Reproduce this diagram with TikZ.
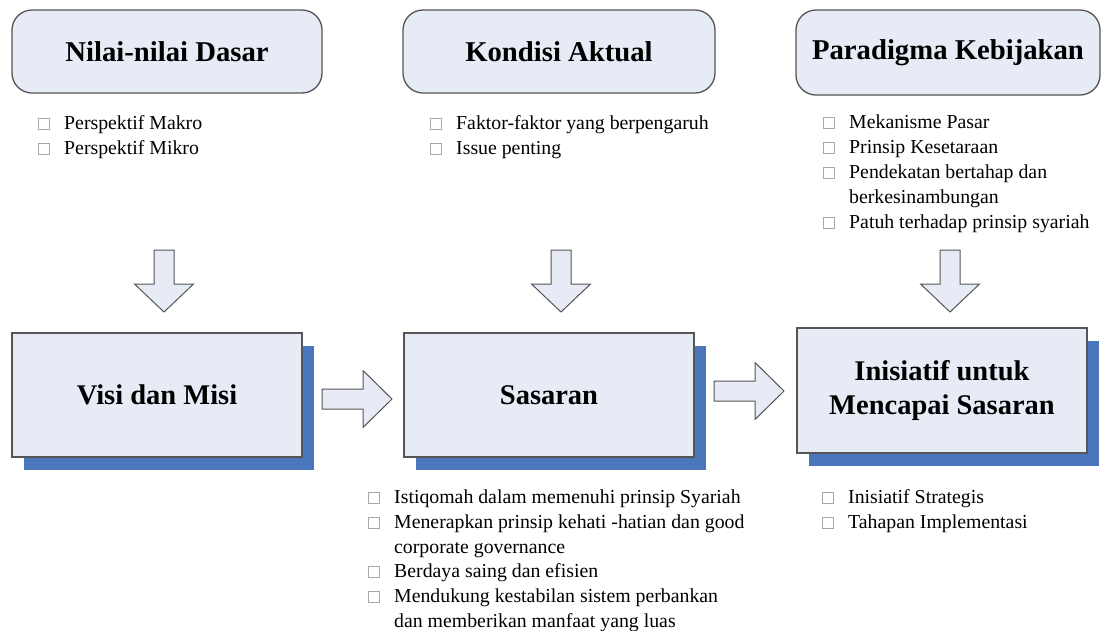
\documentclass[tikz,border=0pt]{standalone}
\usepackage{fontspec}
\setmainfont{Liberation Serif}
\usetikzlibrary{shadows}
\definecolor{boxfill}{HTML}{E6EBF6}
\definecolor{shadowblue}{HTML}{4A76BC}
\definecolor{edgegray}{HTML}{555555}
\definecolor{bulletgray}{HTML}{A8A8A8}
\newcommand\bx{\makebox[26pt][l]{\textcolor{bulletgray}{\fboxsep=0pt\fboxrule=0.7pt\fbox{\rule{0pt}{10pt}\hspace{10pt}}}}}
\newcommand\nb{\hspace*{26pt}}
\tikzset{
 headbox/.style={draw=edgegray, line width=1.3pt, fill=boxfill, rounded corners=20pt, inner sep=0pt,
   font=\fontsize{28.7}{34}\selectfont\bfseries},
 mainbox/.style={draw=edgegray, line width=1.3pt, fill=boxfill, minimum width=290pt, minimum height=124pt,
   inner sep=0pt, align=center, font=\fontsize{28.5}{34}\selectfont\bfseries,
   drop shadow={shadow xshift=12pt, shadow yshift=-13pt, fill=shadowblue, opacity=1}},
 item/.style={anchor=base west, inner sep=0pt, font=\fontsize{19.8}{25}\selectfont, text=black},
 blockarrow/.style={draw=edgegray, line width=1pt, fill=boxfill, line join=miter},
 darrow/.pic={\draw[blockarrow] (-10,0) -- (-10,34) -- (-29.5,34) -- (0,62) -- (29.5,34) -- (10,34) -- (10,0) -- cycle;},
 rarrow/.pic={\draw[blockarrow] (0,-10) -- (41,-10) -- (41,-28.5) -- (70,0) -- (41,28.5) -- (41,10) -- (0,10) -- cycle;}
}
\begin{document}
\begin{tikzpicture}[x=1pt,y=-1pt]
\useasboundingbox (0,0) rectangle (1102,630);

% header boxes
\node[headbox, minimum width=310pt, minimum height=83pt] (h1) at (167,51.5) {Nilai-nilai Dasar};
\node[headbox, minimum width=312pt, minimum height=83pt] (h2) at (559,51.5) {Kondisi Aktual};
\node[headbox, minimum width=304pt, minimum height=85pt] (h3) at (948,52.5) {Paradigma Kebijakan};

% lists under header boxes
\node[item] (a1) at (38,129) {\bx Perspektif Makro};
\node[item] (a2) at (38,154) {\bx Perspektif Mikro};

\node[item] (b1) at (430,129) {\bx Faktor-faktor yang berpengaruh};
\node[item] (b2) at (430,154) {\bx Issue penting};

\node[item] (c1) at (823,128) {\bx Mekanisme Pasar};
\node[item] (c2) at (823,153) {\bx Prinsip Kesetaraan};
\node[item] (c3) at (823,178) {\bx Pendekatan bertahap dan};
\node[item] (c4) at (823,203) {\nb berkesinambungan};
\node[item] (c5) at (823,228) {\bx Patuh terhadap prinsip syariah};

% down arrows
\pic at (164,250) {darrow};
\pic at (561,250) {darrow};
\pic at (950,250) {darrow};

% main boxes
\node[mainbox] (m1) at (157,395) {Visi dan Misi};
\node[mainbox] (m2) at (549,395) {Sasaran};
\node[mainbox, minimum height=125pt] (m3) at (942,390.5) {Inisiatif untuk\\Mencapai Sasaran};

% right arrows
\pic at (322,399) {rarrow};
\pic at (714,391) {rarrow};

% lists under main boxes
\node[item] (d1) at (368,503) {\bx Istiqomah dalam memenuhi prinsip Syariah};
\node[item] (d2) at (368,528) {\bx Menerapkan prinsip kehati -hatian dan good};
\node[item] (d3) at (368,553) {\nb corporate governance};
\node[item] (d4) at (368,577) {\bx Berdaya saing dan efisien};
\node[item] (d5) at (368,602) {\bx Mendukung kestabilan sistem perbankan};
\node[item] (d6) at (368,627) {\nb dan memberikan manfaat yang luas};

\node[item] (e1) at (822,503) {\bx Inisiatif Strategis};
\node[item] (e2) at (822,528) {\bx Tahapan Implementasi};
\end{tikzpicture}
\end{document}
